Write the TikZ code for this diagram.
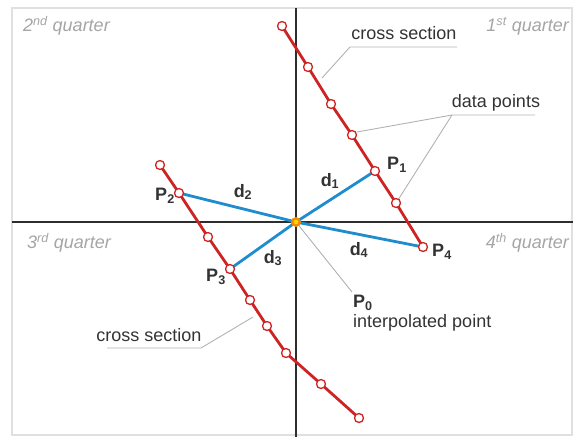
\documentclass[tikz,border=0pt]{standalone}
\usepackage{fontspec}
\setmainfont{Liberation Sans}
\usetikzlibrary{positioning,calc}
\definecolor{secred}{RGB}{205,35,35}
\definecolor{distblue}{RGB}{30,140,205}
\definecolor{axisgray}{RGB}{45,45,45}
\definecolor{leadgray}{RGB}{178,178,178}
\definecolor{quartgray}{RGB}{165,165,165}
\definecolor{origorange}{RGB}{240,140,0}

\begin{document}
\begin{tikzpicture}[x=1pt, y=-1pt,
    every node/.style={font=\fontsize{18}{20}\selectfont, text=black!80},
    datapt/.style={circle, draw=secred, fill=white, line width=1.3pt, minimum size=9pt, inner sep=0pt},
    section/.style={secred, line width=2.8pt, line join=round},
    dist/.style={distblue, line width=2.8pt},
    leader/.style={leadgray, line width=0.9pt},
    quarter/.style={text=quartgray, font=\itshape\fontsize{18}{20}\selectfont, inner sep=0pt}]
        \useasboundingbox (0,0) rectangle (573,437);
        % Frame
        \draw[black!12, line width=1.2pt] (12,8) rectangle (572,435);

        % Axes
        \coordinate (ytop) at (296,8);
        \coordinate (ybot) at (296,437);
        \coordinate (xleft) at (12,222);
        \coordinate (xright) at (573,222);
        \draw[axisgray, line width=1.8pt] (ytop) -- (ybot);
        \draw[axisgray, line width=1.8pt] (xleft) -- (xright);

        % Quarters
        \node[quarter, anchor=west] (q2) at (23,26) {2\textsuperscript{nd} quarter};
        \node[quarter, anchor=east] (q1) at (569,26) {1\textsuperscript{st} quarter};
        \node[quarter, anchor=west] (q3) at (27,243) {3\textsuperscript{rd} quarter};
        \node[quarter, anchor=east] (q4) at (569,243) {4\textsuperscript{th} quarter};

        % Upper cross section
        \coordinate (a1) at (282,26);
        \coordinate (a2) at (308,67);
        \coordinate (a3) at (331,104);
        \coordinate (a4) at (352,135);
        \coordinate (p1) at (375,171);
        \coordinate (a6) at (396,203);
        \coordinate (p4) at (423,247);
        % Lower cross section
        \coordinate (b1) at (160,165);
        \coordinate (p2) at (179,193);
        \coordinate (b3) at (208,237);
        \coordinate (p3) at (230,269);
        \coordinate (b5) at (250,300);
        \coordinate (b6) at (267,326);
        \coordinate (b7) at (286,353);
        \coordinate (b8) at (321,384);
        \coordinate (b9) at (359,418);
        \coordinate (p0) at (296,222);

        % Leaders
        \coordinate (csa) at (350,47);
        \coordinate (csb) at (457,47);
        \node (cs1) at (404,33) {cross section};
        \draw[leader] (csb) -- (csa) -- (322,78);
        \coordinate (dpa) at (452,115);
        \coordinate (dpb) at (535,115);
        \node (dp) at (496,103) {data points};
        \draw[leader] (dpb) -- (dpa) -- (357,132);
        \draw[leader] (dpa) -- (398,200);
        \coordinate (csc) at (107,348);
        \coordinate (csd) at (201,348);
        \node (cs2) at (149,335) {cross section};
        \draw[leader] (csc) -- (csd) -- (253,317);
        \coordinate (ipt) at (352,292);
        \draw[leader] (p0) -- (ipt);

        % Cross sections
        \draw[section] (a1) -- (a2) -- (a3) -- (a4) -- (p1) -- (a6) -- (p4);
        \draw[section] (b1) -- (p2) -- (b3) -- (p3) -- (b5) -- (b6) -- (b7) -- (b8) -- (b9);

        % Distances
        \draw[dist] (p0) -- (p1);
        \draw[dist] (p0) -- (p2);
        \draw[dist] (p0) -- (p3);
        \draw[dist] (p0) -- (p4);

        % Data points
        \foreach \pt in {a1,a2,a3,a4,p1,a6,p4,b1,p2,b3,p3,b5,b6,b7,b8,b9}
            \node[datapt] at (\pt) {};
        \fill[origorange] (p0) circle (5pt);
        \fill[yellow!70!orange] (p0) circle (2.3pt);

        % Labels
        \node (lp1) at (397,165) {\textbf{P\textsubscript{1}}};
        \node (lp2) at (165,196) {\textbf{P\textsubscript{2}}};
        \node (lp3) at (216,277) {\textbf{P\textsubscript{3}}};
        \node (lp4) at (442,252) {\textbf{P\textsubscript{4}}};
        \node (ld1) at (330,181) {\textbf{d\textsubscript{1}}};
        \node (ld2) at (243,192) {\textbf{d\textsubscript{2}}};
        \node (ld3) at (273,258) {\textbf{d\textsubscript{3}}};
        \node (ld4) at (359,250) {\textbf{d\textsubscript{4}}};
        \node[anchor=north west, align=left, inner sep=0pt] (lp0) at (353,295) {\textbf{P\textsubscript{0}}\\interpolated point};
    \end{tikzpicture}
\end{document}
